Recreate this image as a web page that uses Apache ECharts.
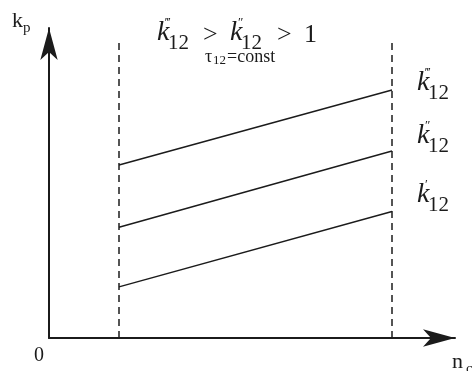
<!DOCTYPE html>
<html>
<head>
<meta charset="utf-8">
<script src="https://cdn.jsdelivr.net/npm/echarts@6/dist/echarts.min.js"></script>
<style>
  html, body { margin: 0; padding: 0; background: #fff; }
  #chart { width: 472px; height: 371px; }
</style>
</head>
<body>
<div id="chart"></div>
<script>
// Operating region bounds on the n_c axis
const regionBounds = [1.0, 4.9];
const regionTop = 9.68;

// k_p along the region for each k12 level (left end, right end)
const seriesNames = ["k12'''", "k12''", "k12'"];
const kTriple = [5.58, 8.0];
const kDouble = [3.57, 6.03];
const kSingle = [1.65, 4.08];

const axisMaxX = 5.8;
const axisMaxY = 10;

const ink = '#1b1b1b';
const serif = '"Liberation Serif", "DejaVu Serif", serif';

function segment(ys) {
  return [[regionBounds[0], ys[0]], [regionBounds[1], ys[1]]];
}

function lineSeries(name, ys) {
  return {
    name: name, type: 'line', data: segment(ys), symbol: 'none',
    lineStyle: { color: ink, width: 1.5 }, silent: true, z: 3
  };
}

function boundSeries(x) {
  return {
    type: 'line', data: [[x, 0], [x, regionTop]], symbol: 'none',
    lineStyle: { color: ink, width: 1.5, type: [7, 5] }, silent: true, z: 2
  };
}

function txt(text, x, y, size, opts) {
  opts = opts || {};
  return {
    type: 'text', x: x, y: y, silent: true,
    style: {
      text: text,
      font: (opts.italic ? 'italic ' : '') + size + 'px ' + serif,
      fill: ink,
      align: opts.align || 'left',
      verticalAlign: 'middle'
    }
  };
}

// k with primes and subscript 12
function kLabel(x, y, primes) {
  return [
    txt('k', x, y, 28, { italic: true }),
    txt(primes, x + 8, y - 10, 13, {}),
    txt('12', x + 11, y + 10, 21, {})
  ];
}

const graphics = [].concat(
  // axis names
  txt('k', 12, 21, 22), txt('p', 23, 28, 15),
  txt('0', 39, 356, 20, { align: 'center' }),
  txt('n', 452, 362, 22), txt('c', 466, 369, 15),
  // headline
  kLabel(157, 33, '\u2034'),
  txt('>', 203, 35, 26),
  kLabel(230, 33, '\u2033'),
  txt('>', 277, 35, 26),
  txt('1', 304, 35, 26),
  txt('\u03c4', 205, 57, 18), txt('12', 213, 61, 13),
  txt('=const', 227, 57, 18),
  // curve labels
  kLabel(417, 83, '\u2034'),
  kLabel(417, 136, '\u2033'),
  kLabel(417, 195, '\u2032')
);

const chart = echarts.init(document.getElementById('chart'));
chart.setOption({
  animation: false,
  grid: { left: 49, right: 17, top: 28, bottom: 33 },
  xAxis: {
    type: 'value', min: 0, max: axisMaxX,
    axisLine: { lineStyle: { color: ink, width: 2 }, symbol: ['none', 'arrow'], symbolSize: [13, 32], symbolOffset: [0, 0] },
    axisTick: { show: false }, axisLabel: { show: false }, splitLine: { show: false }
  },
  yAxis: {
    type: 'value', min: 0, max: axisMaxY,
    axisLine: { lineStyle: { color: ink, width: 2 }, symbol: ['none', 'arrow'], symbolSize: [13, 32], symbolOffset: [0, 0] },
    axisTick: { show: false }, axisLabel: { show: false }, splitLine: { show: false }
  },
  series: [
    boundSeries(regionBounds[0]),
    boundSeries(regionBounds[1]),
    lineSeries(seriesNames[0], kTriple),
    lineSeries(seriesNames[1], kDouble),
    lineSeries(seriesNames[2], kSingle)
  ],
  graphic: graphics
});
</script>
</body>
</html>
